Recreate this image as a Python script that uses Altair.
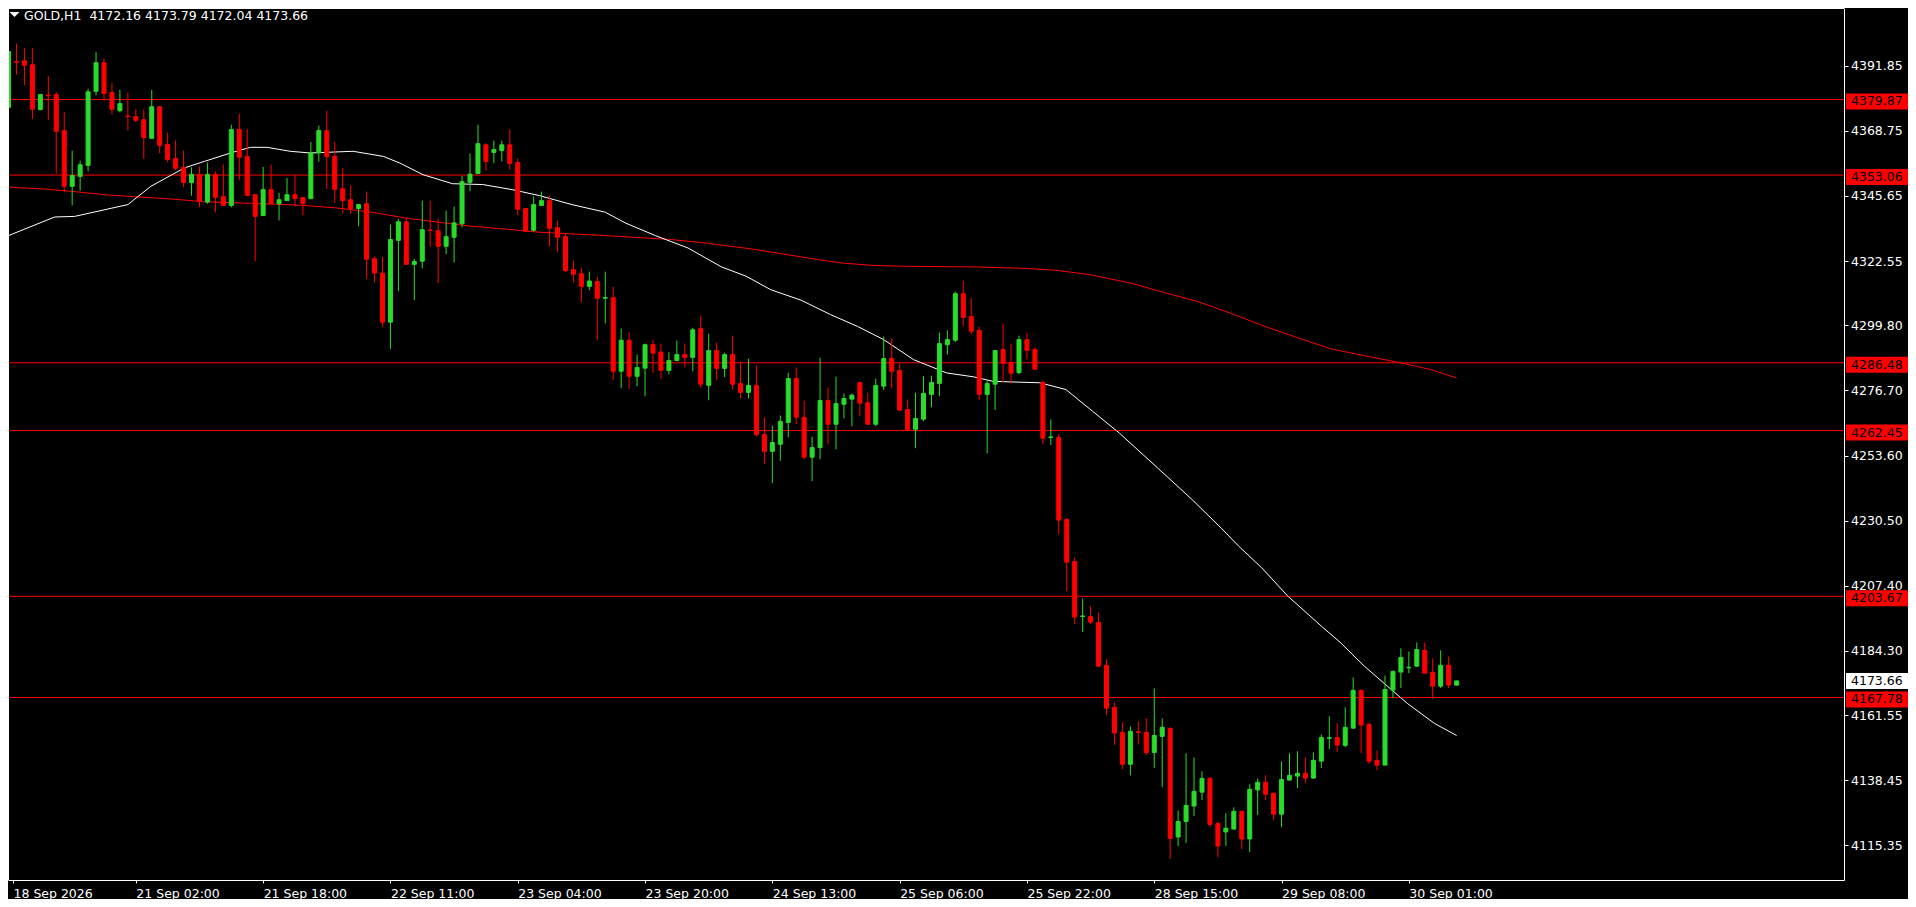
import json
import numpy as np
import pandas as pd
import altair as alt

# ---------------- data ----------------
OPEN = [4377.1, 4393.3, 4393.6, 4392.2, 4376.3, 4381.4, 4381.6, 4368.8, 4349.1, 4352.6,
        4356.5, 4382.8, 4392.9, 4382.3, 4375.9, 4374.0, 4373.8, 4372.7, 4366.1, 4377.3,
        4363.9, 4358.9, 4355.8, 4350.4, 4353.3, 4343.5, 4353.3, 4345.4, 4342.3, 4369.2,
        4359.6, 4346.1, 4338.7, 4347.9, 4342.9, 4344.0, 4346.1, 4345.1, 4344.7, 4360.9,
        4368.8, 4359.7, 4348.2, 4344.3, 4341.2, 4342.9, 4323.4, 4318.3, 4300.9, 4329.9,
        4336.5, 4321.4, 4322.5, 4333.6, 4333.3, 4327.8, 4331.0, 4335.8, 4350.5, 4353.6,
        4363.8, 4361.1, 4361.8, 4363.8, 4357.5, 4341.2, 4333.5, 4342.3, 4344.0, 4334.4,
        4331.2, 4319.5, 4318.1, 4313.6, 4315.3, 4309.4, 4309.6, 4283.5, 4294.5, 4281.7,
        4284.6, 4292.9, 4290.3, 4283.8, 4287.3, 4289.4, 4288.4, 4298.6, 4278.5, 4290.8,
        4284.5, 4289.4, 4279.1, 4276.0, 4278.4, 4261.0, 4255.1, 4257.6, 4265.3, 4280.9,
        4267.1, 4253.0, 4256.4, 4273.1, 4264.7, 4271.8, 4273.6, 4279.5, 4272.3, 4264.7,
        4278.2, 4288.0, 4283.7, 4269.9, 4262.9, 4266.5, 4275.3, 4279.2, 4292.9, 4294.5,
        4311.0, 4302.9, 4297.9, 4275.3, 4278.9, 4291.2, 4286.6, 4283.0, 4294.7, 4291.2,
        4279.5, 4260.0, 4260.0, 4230.9, 4216.0, 4196.5, 4196.5, 4194.4, 4179.2, 4164.3,
        4155.4, 4144.1, 4155.6, 4155.4, 4148.3, 4154.0, 4156.8, 4118.3, 4123.8, 4129.3,
        4134.2, 4139.1, 4123.1, 4120.1, 4121.1, 4127.4, 4117.6, 4135.0, 4137.7, 4133.8,
        4126.4, 4138.5, 4139.9, 4140.9, 4139.2, 4145.2, 4153.3, 4153.6, 4150.8, 4156.9,
        4170.3, 4158.2, 4145.5, 4143.8, 4170.4, 4176.8, 4178.3, 4178.9, 4184.5, 4176.7,
        4171.8, 4179.2, 4172.16]
HIGH = [4398.0, 4399.7, 4398.1, 4398.1, 4381.9, 4388.3, 4382.5, 4375.4, 4361.7, 4358.2,
        4383.7, 4396.7, 4394.3, 4385.7, 4383.3, 4382.3, 4376.3, 4376.3, 4383.3, 4377.3,
        4368.1, 4365.3, 4361.8, 4355.8, 4356.2, 4357.5, 4354.4, 4356.8, 4370.9, 4374.8,
        4369.5, 4346.1, 4356.0, 4356.8, 4346.8, 4352.0, 4353.2, 4345.3, 4364.8, 4370.6,
        4375.9, 4364.8, 4355.6, 4349.3, 4342.9, 4347.2, 4324.3, 4324.1, 4335.5, 4337.5,
        4337.8, 4323.4, 4344.0, 4344.0, 4337.6, 4340.4, 4341.9, 4352.8, 4360.7, 4370.9,
        4364.4, 4365.3, 4365.3, 4369.2, 4358.9, 4341.4, 4345.5, 4347.2, 4345.8, 4336.9,
        4332.3, 4322.7, 4320.2, 4318.8, 4317.0, 4318.8, 4313.5, 4298.6, 4297.3, 4289.4,
        4293.3, 4294.7, 4293.3, 4290.2, 4294.4, 4293.3, 4298.9, 4303.2, 4296.8, 4293.6,
        4290.1, 4296.1, 4286.7, 4288.0, 4285.5, 4267.1, 4264.2, 4267.8, 4283.0, 4284.8,
        4273.1, 4260.3, 4288.3, 4277.7, 4281.6, 4275.6, 4275.6, 4279.5, 4275.9, 4280.9,
        4295.8, 4295.1, 4286.2, 4273.5, 4275.9, 4281.7, 4281.9, 4297.2, 4298.0, 4311.7,
        4315.6, 4309.6, 4299.3, 4280.2, 4290.8, 4300.4, 4293.3, 4296.1, 4297.2, 4291.9,
        4280.2, 4266.4, 4261.2, 4231.4, 4217.5, 4202.9, 4200.2, 4197.9, 4181.3, 4166.0,
        4158.9, 4157.5, 4159.3, 4160.4, 4171.0, 4160.4, 4157.2, 4127.7, 4148.0, 4146.5,
        4141.6, 4139.6, 4123.7, 4126.7, 4128.8, 4127.7, 4137.0, 4139.1, 4140.2, 4134.1,
        4145.1, 4148.0, 4148.7, 4146.5, 4148.3, 4154.7, 4161.1, 4158.6, 4164.3, 4174.9,
        4170.6, 4158.9, 4149.0, 4175.6, 4177.4, 4185.2, 4184.1, 4187.3, 4187.3, 4181.6,
        4184.5, 4182.3, 4173.79]
LOW = [4376.5, 4388.7, 4384.9, 4372.9, 4376.0, 4372.5, 4353.6, 4346.9, 4342.3, 4347.5,
       4354.4, 4381.3, 4379.6, 4374.5, 4375.3, 4368.9, 4371.8, 4358.8, 4366.0, 4360.8,
       4357.6, 4354.8, 4348.8, 4345.8, 4341.6, 4342.9, 4339.8, 4342.3, 4341.6, 4351.2,
       4345.5, 4322.5, 4338.7, 4342.8, 4337.0, 4344.0, 4342.0, 4338.8, 4344.7, 4357.8,
       4348.1, 4343.2, 4339.6, 4339.3, 4334.9, 4316.2, 4315.0, 4299.2, 4291.4, 4311.9,
       4321.4, 4308.7, 4320.0, 4327.6, 4314.8, 4325.0, 4322.1, 4334.5, 4347.3, 4353.6,
       4354.7, 4357.3, 4357.9, 4355.0, 4338.8, 4333.0, 4333.1, 4342.3, 4327.8, 4325.7,
       4318.6, 4315.0, 4307.9, 4312.2, 4294.5, 4300.5, 4280.3, 4277.5, 4277.2, 4278.2,
       4274.6, 4282.9, 4280.7, 4282.4, 4287.0, 4284.9, 4283.5, 4277.6, 4273.2, 4280.4,
       4281.4, 4277.1, 4273.9, 4273.9, 4260.4, 4250.5, 4243.8, 4251.8, 4260.1, 4264.7,
       4252.4, 4244.5, 4252.3, 4257.6, 4255.8, 4266.8, 4264.0, 4267.5, 4264.7, 4264.0,
       4276.8, 4277.5, 4269.3, 4262.2, 4256.2, 4265.8, 4270.7, 4274.6, 4289.4, 4293.8,
       4299.4, 4296.6, 4273.2, 4254.4, 4269.7, 4279.6, 4279.2, 4282.4, 4287.7, 4284.2,
       4257.6, 4257.3, 4225.7, 4205.5, 4193.8, 4191.0, 4193.8, 4178.6, 4161.5, 4150.9,
       4142.4, 4140.2, 4151.1, 4147.4, 4142.8, 4136.0, 4110.5, 4115.1, 4116.2, 4125.7,
       4131.4, 4121.8, 4111.2, 4115.1, 4121.1, 4114.0, 4113.0, 4126.1, 4131.4, 4124.3,
       4121.8, 4138.5, 4135.7, 4137.4, 4138.9, 4142.8, 4149.5, 4148.4, 4150.1, 4156.9,
       4148.1, 4144.2, 4142.0, 4143.8, 4167.6, 4171.1, 4176.4, 4178.6, 4176.4, 4167.2,
       4171.1, 4171.1, 4172.04]
CLOSE = [4396.9, 4393.1, 4392.0, 4376.4, 4381.6, 4381.2, 4368.6, 4349.1, 4352.9, 4356.7,
         4382.6, 4392.9, 4382.0, 4376.4, 4378.4, 4373.8, 4372.5, 4366.4, 4377.3, 4363.6,
         4358.6, 4355.5, 4350.4, 4353.3, 4343.8, 4353.3, 4345.2, 4342.3, 4369.2, 4359.4,
         4345.9, 4338.4, 4347.9, 4342.9, 4344.3, 4346.1, 4344.7, 4343.0, 4360.9, 4368.9,
         4359.7, 4348.0, 4344.0, 4341.2, 4342.6, 4323.2, 4318.3, 4300.9, 4330.2, 4336.5,
         4321.4, 4322.4, 4333.7, 4333.4, 4327.8, 4331.2, 4336.1, 4350.7, 4353.4, 4364.2,
         4357.9, 4362.1, 4363.8, 4357.2, 4340.9, 4333.2, 4342.6, 4344.0, 4334.2, 4331.0,
         4319.2, 4317.9, 4313.6, 4315.5, 4309.4, 4309.6, 4283.5, 4294.5, 4281.7, 4284.8,
         4292.9, 4289.9, 4283.8, 4287.3, 4289.4, 4288.4, 4298.2, 4278.9, 4290.8, 4284.5,
         4289.4, 4278.9, 4276.0, 4278.4, 4261.0, 4255.1, 4258.2, 4265.7, 4280.9, 4267.2,
         4253.0, 4256.4, 4273.1, 4264.7, 4272.0, 4273.8, 4275.0, 4272.2, 4264.7, 4278.4,
         4288.0, 4283.5, 4269.7, 4262.6, 4266.7, 4275.6, 4279.5, 4293.3, 4294.7, 4311.0,
         4302.6, 4297.7, 4275.3, 4279.1, 4290.8, 4286.3, 4282.8, 4294.7, 4290.9, 4284.2,
         4259.7, 4260.2, 4230.7, 4215.8, 4196.3, 4196.7, 4194.5, 4178.9, 4164.0, 4155.2,
         4144.1, 4155.8, 4155.4, 4148.3, 4154.3, 4157.2, 4117.8, 4123.8, 4129.5, 4134.5,
         4139.1, 4122.8, 4115.1, 4121.4, 4127.4, 4117.6, 4135.2, 4137.7, 4133.5, 4126.4,
         4138.7, 4140.2, 4140.9, 4139.2, 4145.5, 4153.6, 4153.5, 4150.9, 4157.2, 4170.3,
         4158.0, 4145.2, 4143.8, 4170.6, 4177.0, 4182.0, 4178.5, 4184.8, 4176.4, 4171.8,
         4179.2, 4172.2, 4173.66]

FAST_MA_BAR = [0, 5.8, 8.3, 15, 17.9, 22.1, 24.6, 27.9, 30.4, 32.5, 35.4, 37.9, 43.3, 47.1,
               49.2, 52.1, 55.8, 59.6, 63.3, 66.7, 70.8, 75.0, 77.5, 81.3, 85.4, 89.6, 92.7,
               95.8, 99.6, 103.3, 106.7, 110.0, 113.75, 117.9, 121.3, 123.75, 129.6, 132.9,
               136.25, 139.6, 144.5, 148.75, 152.5, 154.6, 157.5, 160.8, 165, 167.5, 170.4,
               173.3, 175.8, 179.2, 182]
FAST_MA = [4331.6, 4338.2, 4338.4, 4342.6, 4349.1, 4355.6, 4357.9, 4360.9, 4362.9, 4362.9,
           4361.5, 4360.9, 4361.5, 4359.7, 4357.3, 4353.2, 4350.0, 4349.7, 4347.9, 4345.8,
           4342.6, 4339.9, 4336.1, 4331.6, 4327.2, 4320.5, 4317.2, 4312.4, 4308.7, 4303.6,
           4299.4, 4294.7, 4287.6, 4282.9, 4281.5, 4279.9, 4279.4, 4277.0, 4269.3, 4261.6,
           4249.0, 4238.0, 4227.6, 4221.5, 4213.8, 4203.7, 4193.1, 4187.0, 4178.9, 4171.8,
           4165.7, 4158.6, 4154.3]
SLOW_MA_BAR = [0, 4.6, 7.9, 12.1, 16.3, 20.4, 24.6, 28.75, 32.9, 37.1, 41.25, 45.4, 50, 54.2,
               58.3, 62.5, 66.7, 70.8, 75, 79.2, 83.3, 87.5, 93.3, 101.7, 104.6, 108.75,
               112.9, 121.25, 127.5, 131.7, 135.8, 139.6, 141.25, 145.4, 149.6, 153.75,
               157.9, 162.1, 166.25, 170.4, 174.6, 178.75, 182]
SLOW_MA = [4348.8, 4348.1, 4347.3, 4346.1, 4345.3, 4344.6, 4343.6, 4343.2, 4342.8, 4342.3,
           4341.4, 4340.0, 4337.8, 4336.3, 4334.9, 4333.9, 4332.8, 4332.2, 4331.6, 4330.9,
           4330.2, 4329.0, 4326.9, 4323.1, 4321.9, 4321.0, 4320.7, 4320.5, 4320.0, 4319.3,
           4317.8, 4315.6, 4314.6, 4311.3, 4308.1, 4303.9, 4299.4, 4295.3, 4291.4, 4289.0,
           4286.7, 4284.1, 4281.1]

LEVELS = [4379.87, 4353.06, 4286.48, 4262.45, 4203.67, 4167.78]
LAST_PRICE = 4173.66
PRICE_TICKS = [4391.85, 4368.75, 4345.65, 4322.55, 4299.80, 4276.70, 4253.60,
               4230.50, 4207.40, 4184.30, 4161.55, 4138.45, 4115.35]
TIME_TICK_BARS = [0, 16, 32, 48, 64, 80, 96, 112, 128, 144, 160, 176]
TIME_LABELS = ["18 Sep 2026", "21 Sep 02:00", "21 Sep 18:00", "22 Sep 11:00",
               "23 Sep 04:00", "23 Sep 20:00", "24 Sep 13:00", "25 Sep 06:00",
               "25 Sep 22:00", "28 Sep 15:00", "29 Sep 08:00", "30 Sep 01:00"]
TITLE = "GOLD,H1\u00a0 4172.16 4173.79 4172.04 4173.66"

# ---------------- layout / style ----------------
W, H = 1836, 872
X_DOMAIN = [0.5625, 230.0625]
Y_DOMAIN = [4103.05, 4412.32]
GREEN = "#2BDB2B"
RED = "#FF0000"
FONT = "DejaVu Sans"
FS = 12.5

candles = pd.DataFrame({"bar": list(range(len(OPEN))), "open": OPEN, "high": HIGH,
                        "low": LOW, "close": CLOSE})
candles["high"] = candles[["high", "open", "close"]].max(axis=1)
candles["low"] = candles[["low", "open", "close"]].min(axis=1)
candles["dir"] = np.where(candles["close"] >= candles["open"], "up", "down")

fast = pd.DataFrame({"bar": FAST_MA_BAR, "ma": FAST_MA})
slow = pd.DataFrame({"bar": SLOW_MA_BAR, "ma": SLOW_MA})
levels = pd.DataFrame({"level": LEVELS, "label": [f"{v:.2f}" for v in LEVELS]})
last = pd.DataFrame({"level": [LAST_PRICE], "label": [f"{LAST_PRICE:.2f}"]})
one = pd.DataFrame({"t": [TITLE]})

x_ticks = [X_DOMAIN[0]] + TIME_TICK_BARS[1:]
label_expr = json.dumps(TIME_LABELS) + "[round(datum.value / 16)]"

xscale = alt.Scale(domain=X_DOMAIN, nice=False, zero=False)
yscale = alt.Scale(domain=Y_DOMAIN, nice=False, zero=False)
xaxis = alt.Axis(values=x_ticks, labelExpr=label_expr, orient="bottom", grid=False,
                 title=None, tickSize=3, tickColor="white", domainColor="white",
                 labelColor="white", labelFont=FONT, labelFontSize=FS, labelAlign="left",
                 labelBaseline="top", labelPadding=4, labelFlush=False, labelOverlap=False)
yaxis = alt.Axis(values=PRICE_TICKS, format=".2f", orient="right", grid=False, title=None,
                 tickSize=4, tickColor="white", domainColor="white", labelColor="white",
                 labelFont=FONT, labelFontSize=FS, labelAlign="left", labelBaseline="middle",
                 labelPadding=2.5, labelFlush=False, labelOverlap=False)


def X(field="bar"):
    return alt.X(f"{field}:Q", scale=xscale, axis=xaxis)


def Y(field):
    return alt.Y(f"{field}:Q", scale=yscale, axis=yaxis)


dir_scale = alt.Scale(domain=["up", "down"], range=[GREEN, RED])

wicks = alt.Chart(candles).mark_rule(strokeWidth=1).encode(
    x=X(), y=Y("low"), y2="high",
    color=alt.Color("dir:N", scale=dir_scale, legend=None))

bodies = alt.Chart(candles).mark_bar(size=4, strokeWidth=1).encode(
    x=X(), y=Y("open"), y2="close",
    color=alt.Color("dir:N", scale=dir_scale, legend=None),
    stroke=alt.Stroke("dir:N", scale=dir_scale, legend=None))

fast_line = alt.Chart(fast).mark_line(color="white", strokeWidth=1).encode(
    x=X(), y=Y("ma"))
slow_line = alt.Chart(slow).mark_line(color=RED, strokeWidth=1).encode(
    x=X(), y=Y("ma"))

level_rules = alt.Chart(levels).mark_rule(color=RED, strokeWidth=1).encode(y=Y("level"))

level_boxes = alt.Chart(levels).mark_tick(
    orient="horizontal", thickness=16, size=62, color=RED, opacity=1, yOffset=2
).encode(x=alt.value(W + 33), y=Y("level"))
level_text = alt.Chart(levels).mark_text(
    align="left", baseline="middle", dy=2, font=FONT, fontSize=FS, color="black"
).encode(x=alt.value(W + 7), y=Y("level"), text="label:N")

last_box = alt.Chart(last).mark_tick(
    orient="horizontal", thickness=16, size=62, color="white", opacity=1
).encode(x=alt.value(W + 33), y=Y("level"))
last_text = alt.Chart(last).mark_text(
    align="left", baseline="middle", font=FONT, fontSize=FS, color="black"
).encode(x=alt.value(W + 7), y=Y("level"), text="label:N")

frame_left = alt.Chart(one).mark_rule(color="white", strokeWidth=1).encode(
    x=alt.value(0.5), y=alt.value(0), y2=alt.value(H))
frame_top = alt.Chart(one).mark_rule(color="white", strokeWidth=1).encode(
    x=alt.value(0), x2=alt.value(W), y=alt.value(0.5))

title_text = alt.Chart(one).mark_text(
    align="left", baseline="middle", font=FONT, fontSize=FS, color="white"
).encode(x=alt.value(16), y=alt.value(8), text="t:N")
title_tri = alt.Chart(one).mark_point(
    shape="M-1,-0.5L1,-0.5L0,0.5Z", size=100, filled=True, color="white", opacity=1
).encode(x=alt.value(6.5), y=alt.value(6.5))

chart = alt.layer(
    level_rules, slow_line, fast_line, wicks, bodies,
    level_boxes, level_text, last_box, last_text,
    frame_left, frame_top, title_tri, title_text
).properties(
    width=W, height=H,
    autosize=alt.AutoSizeParams(type="none"),
    padding={"left": 0, "top": 0, "right": 64, "bottom": 19},
    background="black",
).configure_view(strokeWidth=0)

chart.save("out.html", embed_options={"renderer": "svg", "actions": False})
